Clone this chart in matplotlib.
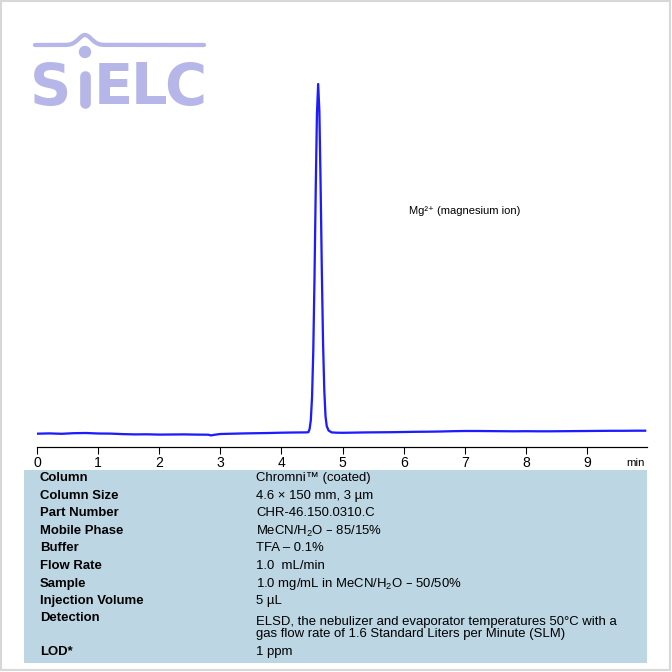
import matplotlib
matplotlib.use("Agg")
import matplotlib.pyplot as plt
import numpy as np
from matplotlib.patches import Rectangle, Circle

plt.rcParams['font.family'] = ['Liberation Sans', 'DejaVu Sans']
plt.rcParams['mathtext.default'] = 'regular'

# ---- data ----
time_min = [0.0, 0.2, 0.4, 0.6, 0.8, 1.0, 1.2, 1.4, 1.6, 1.8, 2.0, 2.2, 2.4, 2.6,
            2.8, 2.85, 2.9, 3.0, 3.2, 3.4, 3.6, 3.8, 4.0, 4.2, 4.4,
            4.44, 4.46, 4.48, 4.50, 4.52, 4.54, 4.56, 4.58, 4.60, 4.62, 4.64,
            4.66, 4.68, 4.70, 4.72, 4.74, 4.77,
            4.82, 4.9, 5.0, 5.2, 5.4, 5.6, 5.8, 6.0, 6.2, 6.4, 6.6, 6.8, 7.0,
            7.2, 7.4, 7.6, 7.8, 8.0, 8.2, 8.4, 8.6, 8.8, 9.0, 9.2, 9.4, 9.6,
            9.8, 9.95]
signal = [13.3, 13.6, 13.2, 13.8, 14.0, 13.5, 13.4, 12.9, 12.6, 12.7, 12.4, 12.5,
          12.6, 12.4, 12.3, 11.6, 12.2, 13.0, 13.3, 13.6, 13.8, 14.0, 14.3, 14.5,
          14.6,
          14.8, 18, 27, 50, 96, 169, 257, 333, 363, 335, 262,
          176, 104, 57, 31, 21, 16.5,
          14.6, 14.3, 14.2, 14.4, 14.6, 14.7, 14.8, 15.0, 15.2, 15.3, 15.5,
          15.8, 16.0, 16.0, 15.9, 15.8, 15.7, 15.8, 15.7, 15.7, 15.8, 15.9,
          16.0, 16.1, 16.2, 16.2, 16.3, 16.3]
tick_values = [0, 1, 2, 3, 4, 5, 6, 7, 8, 9]
peak_label = "Mg\u00b2\u207a (magnesium ion)"

table_labels = ["Column", "Column Size", "Part Number", "Mobile Phase", "Buffer",
                "Flow Rate", "Sample", "Injection Volume", "Detection", "LOD*"]
table_values = ["Chromni\u2122 (coated)", "4.6 \u00d7 150 mm, 3 \u00b5m",
                "CHR-46.150.0310.C", "MeCN/H$_2$O \u2013 85/15%", "TFA \u2013 0.1%",
                "1.0  mL/min", "1.0 mg/mL in MeCN/H$_2$O \u2013 50/50%", "5 \u00b5L",
                "ELSD, the nebulizer and evaporator temperatures 50\u00b0C with a\n"
                "gas flow rate of 1.6 Standard Liters per Minute (SLM)",
                "1 ppm"]

# ---- figure ----
W = H = 672
fig = plt.figure(figsize=(7, 7), dpi=96)
fig.patch.set_facecolor('white')

def fx(px):
    return px / W

def fy(py):
    return 1 - py / H

# frame
fig.add_artist(Rectangle((fx(1), fy(670)), fx(669), 669 / H, transform=fig.transFigure,
                         fill=False, edgecolor='#d8d8d8', linewidth=1.6))

# chart axes
ax = fig.add_axes([fx(37), fy(447), 610 / W, 427 / H])
ax.plot(time_min, signal, color='#1c1cff', linewidth=1.7, solid_joinstyle='round')
ax.set_xlim(0, 9.98)
ax.set_ylim(0, 427)
for s in ['top', 'right', 'left']:
    ax.spines[s].set_visible(False)
ax.spines['bottom'].set_linewidth(0.9)
ax.set_yticks([])
ax.set_xticks(tick_values)
ax.set_xticklabels([str(v) for v in tick_values])
ax.tick_params(axis='x', direction='out', length=5, width=0.8, pad=1.5, labelsize=10.5)
ax.patch.set_alpha(0)
ax.text(9.79, 447 - 463, "min", ha='center', va='center', fontsize=8.5, clip_on=False)
ax.text(6.09, 447 - 211, peak_label, ha='left', va='center', fontsize=8.3,
        family=['Liberation Sans', 'DejaVu Sans'])

# logo
logo_c = '#b6b6e8'
logo_ax = fig.add_axes([0, 0, 1, 1], zorder=-1)
logo_ax.set_xlim(0, W)
logo_ax.set_ylim(H, 0)
logo_ax.axis('off')
bx = np.linspace(66, 104, 40)
by = 45 - 10 * np.exp(-((bx - 85) / 9.0) ** 2)
logo_ax.plot(np.concatenate([[35], bx, [204]]), np.concatenate([[45], by, [45]]),
             color=logo_c, linewidth=3.2, solid_capstyle='round')
for ch, cx in [("S", 51), ("E", 113), ("L", 149), ("C", 185)]:
    logo_ax.text(cx, 89, ch, fontsize=43, fontweight='bold', color=logo_c,
                 ha='center', va='center', family='DejaVu Sans')
logo_ax.plot([85, 85], [76, 103], color=logo_c, linewidth=8, solid_capstyle='round')
logo_ax.add_patch(Circle((85, 52), 5.5, color=logo_c))

# table
logo_ax.add_patch(Rectangle((24, 470), 623, 193, facecolor='#bcd6e3', edgecolor='none'))
label_y = [478, 496, 513, 531, 548, 566, 584, 601, 618, 652]
value_y = [478, 496, 513, 531, 548, 566, 584, 601, 628, 652]
for lab, val, ly, vy in zip(table_labels, table_values, label_y, value_y):
    logo_ax.text(40, ly, lab, fontsize=9.8, fontweight='bold', ha='left', va='center')
    logo_ax.text(256, vy, val, fontsize=9.8, ha='left', va='center', linespacing=0.95)

fig.savefig("out.png", dpi=96, facecolor='white')
